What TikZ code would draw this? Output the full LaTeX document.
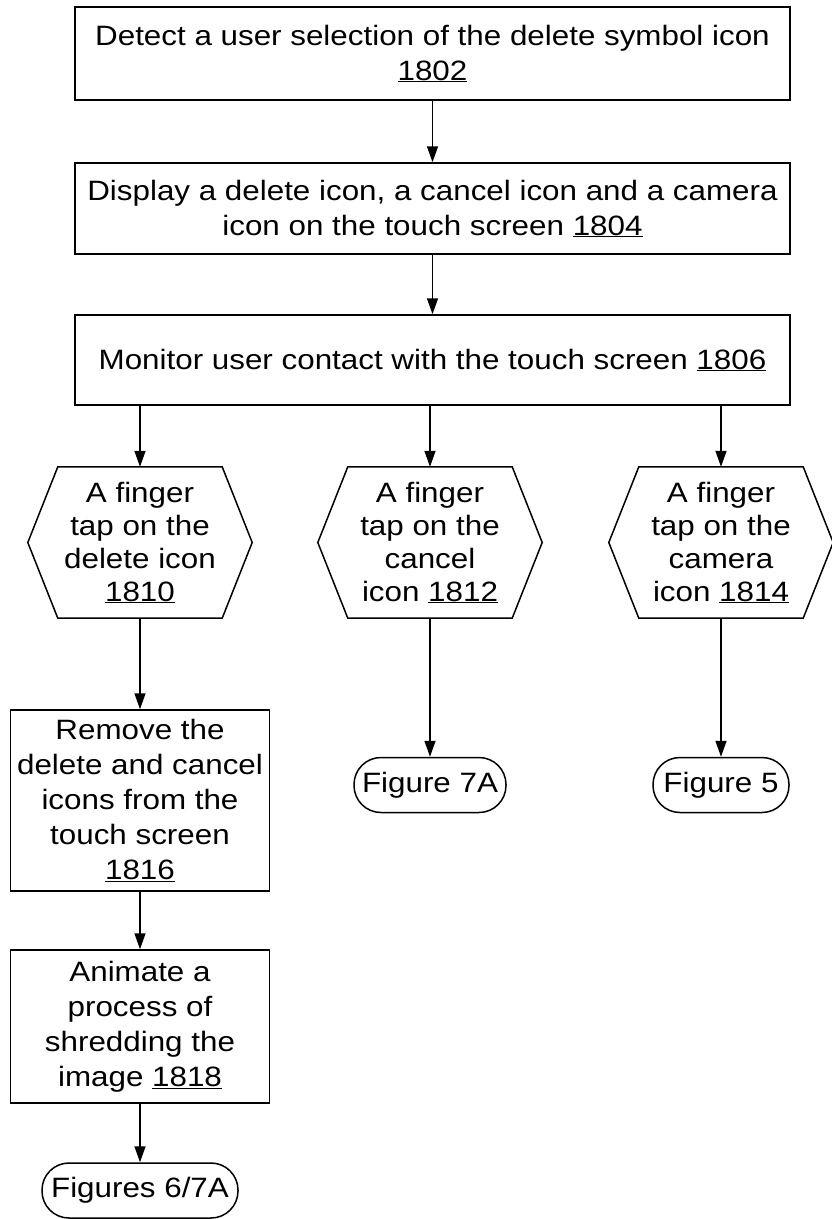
\documentclass[tikz,border=0pt]{standalone}
\usepackage{fontspec}
\setmainfont{Liberation Sans}[FakeStretch=1.12]
\usetikzlibrary{arrows.meta}

\begin{document}
\begin{tikzpicture}[x=1pt,y=1pt,yscale=-1,xscale=1,
  box/.style={draw,line width=1.5pt,align=center,inner sep=0pt,font=\fontsize{28}{35}\selectfont},
  hexbox/.style={align=center,inner sep=0pt,minimum width=164pt,minimum height=151pt,font=\fontsize{28}{33}\selectfont},
  endbox/.style={draw,line width=1.5pt,rounded corners=27pt,inner sep=0pt,minimum height=55pt,font=\fontsize{28}{35}\selectfont},
  flow/.style={line width=1.5pt,-{Triangle[length=16pt,width=11pt]}}]
\useasboundingbox (0,0) rectangle (832,1219);

% Process boxes
\node [box,minimum width=715pt,minimum height=93pt] (b1802) at (432.5,53.5) {Detect a user selection of the delete symbol icon\\\underline{1802}};
\node [box,minimum width=715pt,minimum height=91pt] (b1804) at (432.5,208.5) {Display a delete icon, a cancel icon and a camera\\icon on the touch screen \underline{1804}};
\node [box,minimum width=715pt,minimum height=90pt] (b1806) at (432.5,360) {Monitor user contact with the touch screen \underline{1806}};

% Decision hexagons
\node [hexbox] (h1810) at (140,542.5) {A finger\\tap on the\\delete icon\\\underline{1810}};
\node [hexbox] (h1812) at (430,542.5) {A finger\\tap on the\\cancel\\icon \underline{1812}};
\node [hexbox] (h1814) at (721,542.5) {A finger\\tap on the\\camera\\icon \underline{1814}};
\foreach \n in {h1810,h1812,h1814}
  \draw [line width=1.5pt] (\n.north west) -- (\n.north east) -- ([xshift=30pt]\n.east) -- (\n.south east) -- (\n.south west) -- ([xshift=-30pt]\n.west) -- cycle;

% Left branch
\node [box,minimum width=259pt,minimum height=181pt] (b1816) at (140,800.5) {Remove the\\delete and cancel\\icons from the\\touch screen\\\underline{1816}};
\node [box,minimum width=259pt,minimum height=153pt] (b1818) at (140,1026.5) {Animate a\\process of\\shredding the\\image \underline{1818}};

% Terminals
\node [endbox,minimum width=196pt] (t67) at (140,1190.5) {Figures 6/7A};
\node [endbox,minimum width=152pt] (t7A) at (430,785) {Figure 7A};
\node [endbox,minimum width=136pt] (t5) at (721,785) {Figure 5};

% Connection
\draw [flow] (b1802) -- (b1804);
\draw [flow] (b1804) -- (b1806);
\foreach \n in {h1810,h1812,h1814}
  \draw [flow] (b1806.south -| \n.north) -- (\n.north);
\draw [flow] (h1810) -- (b1816);
\draw [flow] (b1816) -- (b1818);
\draw [flow] (b1818) -- (t67);
\draw [flow] (h1812) -- (t7A);
\draw [flow] (h1814) -- (t5);

\end{tikzpicture}
\end{document}
